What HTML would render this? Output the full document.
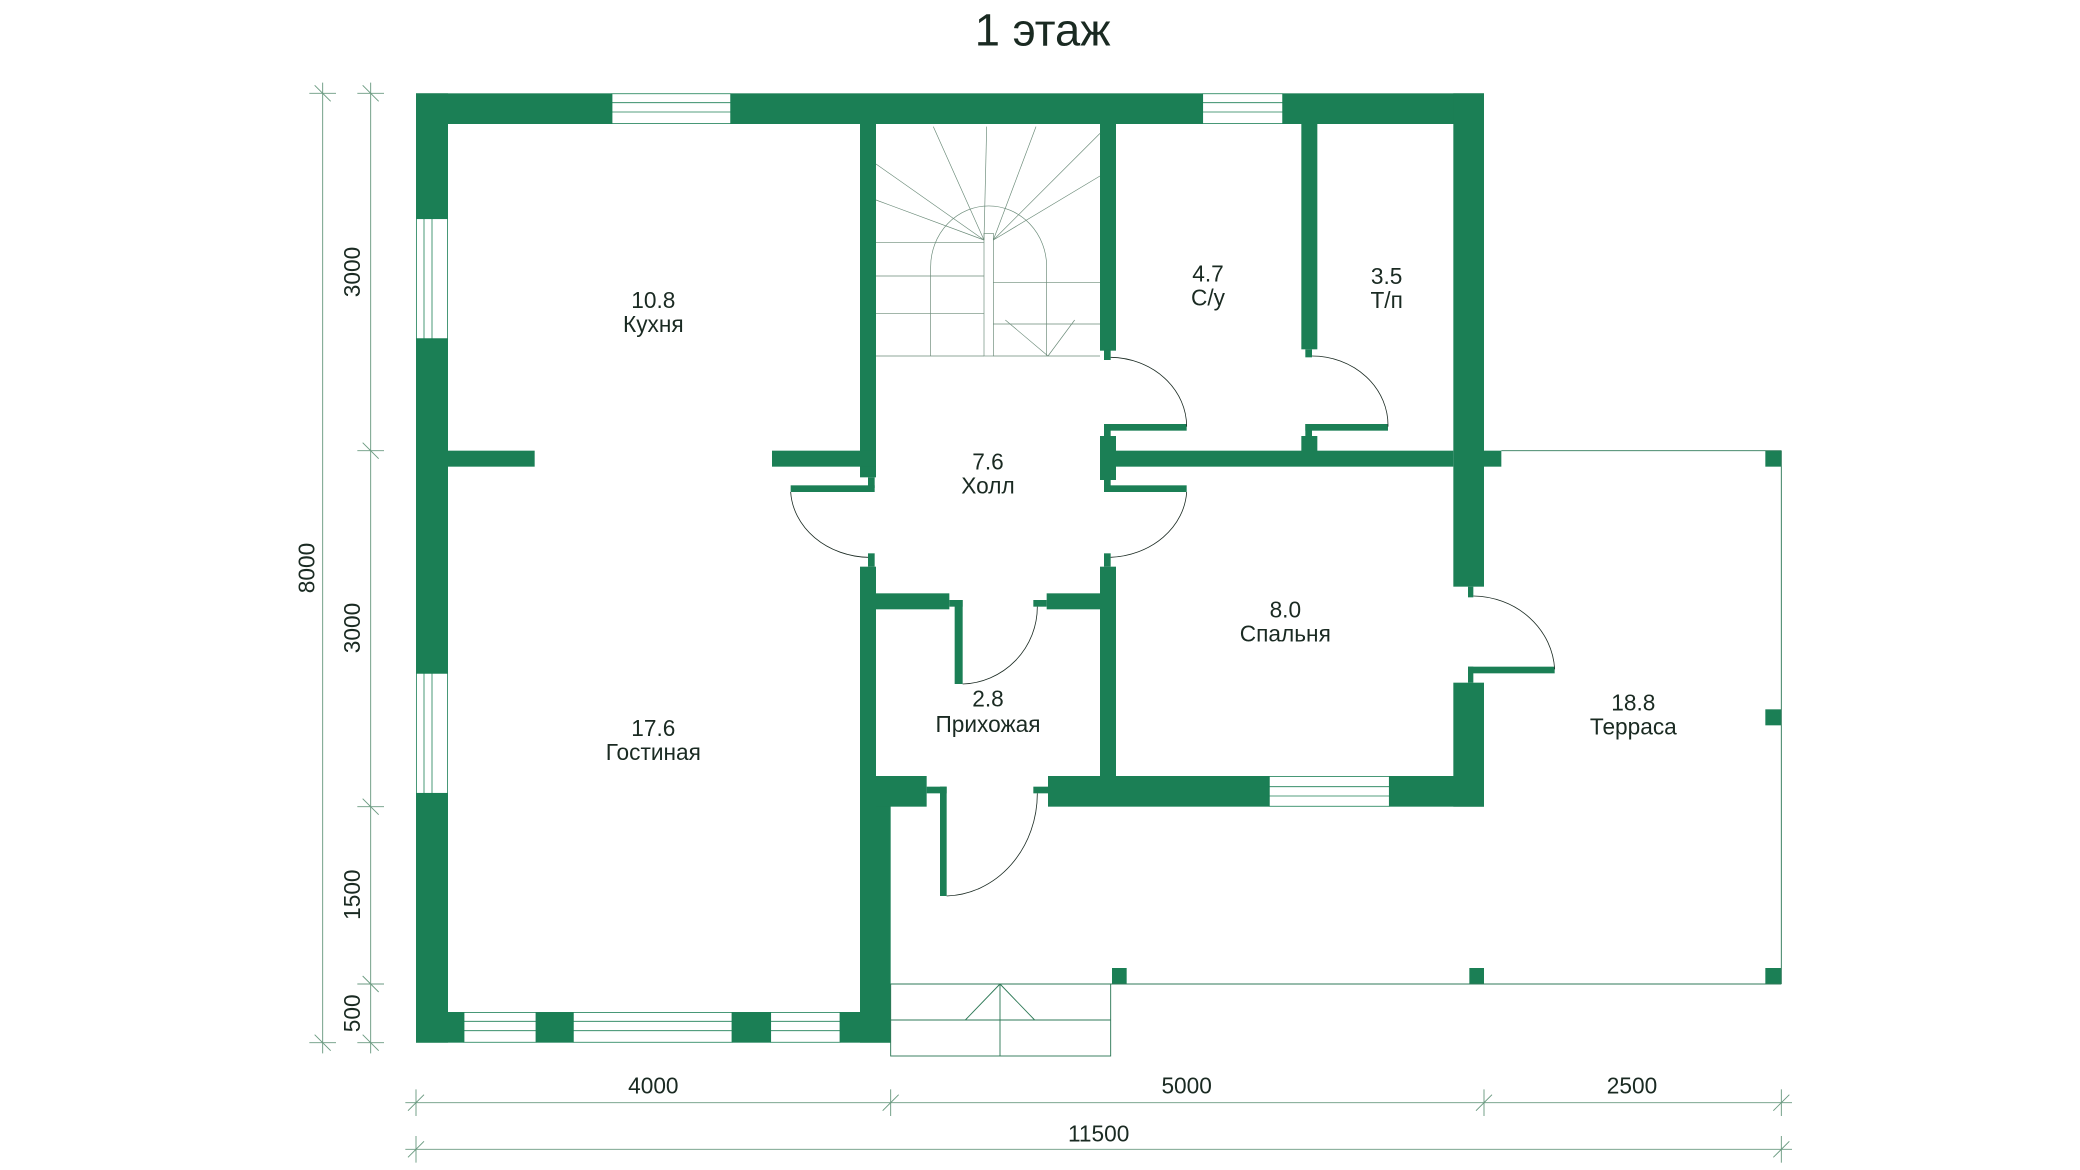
<!DOCTYPE html>
<html><head><meta charset="utf-8"><style>
html,body{margin:0;padding:0;background:#fff;}
svg{display:block;}
text{font-family:"Liberation Sans",sans-serif;fill:#1a2a22;}
</style></head><body>
<svg width="2080" height="1170" viewBox="0 0 1560 877.5" xmlns="http://www.w3.org/2000/svg">
<g fill="#1b7f55">
<rect x="312" y="70" width="147" height="23"/>
<rect x="548" y="70" width="354" height="23"/>
<rect x="962" y="70" width="151" height="23"/>
<rect x="312" y="70" width="24" height="94"/>
<rect x="312" y="254" width="24" height="251"/>
<rect x="312" y="595" width="24" height="187"/>
<rect x="312" y="759" width="36" height="23"/>
<rect x="402" y="759" width="28" height="23"/>
<rect x="549" y="759" width="29" height="23"/>
<rect x="630" y="759" width="38" height="23"/>
<rect x="1090" y="70" width="23" height="370"/>
<rect x="1090" y="512" width="23" height="93"/>
<rect x="1113" y="338" width="13" height="12"/>
<rect x="1101" y="440" width="4" height="8"/>
<rect x="1101" y="500" width="4" height="12"/>
<rect x="1101" y="500" width="65" height="5"/>
<rect x="786" y="582" width="166" height="23"/>
<rect x="1042" y="582" width="71" height="23"/>
<rect x="645" y="93" width="12" height="265"/>
<rect x="651" y="358" width="5" height="8"/>
<rect x="593" y="364" width="63" height="5"/>
<rect x="651" y="415" width="5" height="10"/>
<rect x="645" y="425" width="12" height="160"/>
<rect x="645" y="582" width="23" height="200"/>
<rect x="336" y="338" width="65" height="12"/>
<rect x="579" y="338" width="78" height="12"/>
<rect x="825" y="93" width="12" height="170"/>
<rect x="828" y="262" width="5" height="8"/>
<rect x="828" y="318" width="62" height="5"/>
<rect x="828" y="318" width="5" height="12"/>
<rect x="825" y="327" width="12" height="33"/>
<rect x="837" y="338" width="253" height="12"/>
<rect x="828" y="360" width="5" height="8"/>
<rect x="828" y="364" width="62" height="5"/>
<rect x="828" y="415" width="5" height="10"/>
<rect x="825" y="425" width="12" height="160"/>
<rect x="976" y="93" width="12" height="169"/>
<rect x="979" y="262" width="5" height="6"/>
<rect x="979" y="318" width="62" height="5"/>
<rect x="979" y="318" width="5" height="10"/>
<rect x="976" y="327" width="12" height="12"/>
<rect x="657" y="445" width="55" height="12"/>
<rect x="712" y="450" width="10" height="5"/>
<rect x="716" y="450" width="6" height="63"/>
<rect x="785" y="445" width="40" height="12"/>
<rect x="775" y="450" width="10" height="5"/>
<rect x="657" y="582" width="38" height="23"/>
<rect x="695" y="590" width="15" height="5"/>
<rect x="705" y="590" width="5" height="82"/>
<rect x="775" y="590" width="11" height="5"/>
<rect x="1324" y="338" width="12" height="12"/>
<rect x="1324" y="532" width="12" height="12"/>
<rect x="1324" y="726" width="12" height="12"/>
<rect x="1102" y="726" width="11" height="12"/>
<rect x="834" y="726" width="11" height="12"/>
</g>
<g fill="none" stroke="#1b7f55" stroke-width="0.6">
<rect x="459" y="70.3" width="89" height="22.4"/>
<line x1="459" y1="77" x2="548" y2="77"/><line x1="459" y1="84" x2="548" y2="84"/>
<rect x="902" y="70.3" width="60" height="22.4"/>
<line x1="902" y1="77" x2="962" y2="77"/><line x1="902" y1="84" x2="962" y2="84"/>
<rect x="312.3" y="164" width="23.4" height="90"/>
<line x1="318" y1="164" x2="318" y2="254"/><line x1="324" y1="164" x2="324" y2="254"/>
<rect x="312.3" y="505" width="23.4" height="90"/>
<line x1="318" y1="505" x2="318" y2="595"/><line x1="324" y1="505" x2="324" y2="595"/>
<rect x="348" y="759.3" width="54" height="22.4"/>
<line x1="348" y1="766" x2="402" y2="766"/><line x1="348" y1="773" x2="402" y2="773"/>
<rect x="430" y="759.3" width="119" height="22.4"/>
<line x1="430" y1="766" x2="549" y2="766"/><line x1="430" y1="773" x2="549" y2="773"/>
<rect x="578" y="759.3" width="52" height="22.4"/>
<line x1="578" y1="766" x2="630" y2="766"/><line x1="578" y1="773" x2="630" y2="773"/>
<rect x="952" y="582.3" width="90" height="22.4"/>
<line x1="952" y1="590" x2="1042" y2="590"/><line x1="952" y1="597" x2="1042" y2="597"/>
</g>
<g fill="none" stroke="#1a2a22" stroke-width="0.6">
<path d="M593 369 A60 52 0 0 0 651 418"/>
<path d="M890 369 A60 52 0 0 1 833 418"/>
<path d="M833 268 A58 52 0 0 1 890 320"/>
<path d="M984 267 A57 52 0 0 1 1041 320"/>
<path d="M1105 447 A62 58 0 0 1 1166 502"/>
<path d="M778 455 A58 58 0 0 1 722 513"/>
<path d="M778 595 A70 77 0 0 1 710 672"/>
</g>
<g fill="none" stroke="#6a8a78" stroke-width="0.5">
<line x1="657" y1="267" x2="738" y2="267"/>
<line x1="745" y1="267" x2="825" y2="267"/>
<line x1="657" y1="235" x2="738" y2="235"/>
<line x1="657" y1="207" x2="738" y2="207"/>
<line x1="657" y1="182" x2="738" y2="182"/>
<line x1="745" y1="212" x2="825" y2="212"/>
<line x1="745" y1="243" x2="825" y2="243"/>
<rect x="738" y="175" width="7" height="92"/>
<path d="M698 267 V200 A43 45 0 0 1 785 200 V267"/>
<line x1="738" y1="180" x2="657" y2="123"/>
<line x1="738" y1="180" x2="657" y2="150"/>
<line x1="738" y1="180" x2="700" y2="95"/>
<line x1="738" y1="180" x2="740" y2="95" />
<line x1="745" y1="180" x2="777" y2="95"/>
<line x1="745" y1="180" x2="825" y2="100"/>
<line x1="745" y1="180" x2="825" y2="132"/>
<line x1="754" y1="240" x2="786" y2="267"/>
<line x1="786" y1="267" x2="806" y2="240"/>
</g>
<g fill="none" stroke="#2f7a58" stroke-width="0.7">
<line x1="1126" y1="338" x2="1336" y2="338"/>
<line x1="1336" y1="338" x2="1336" y2="738"/>
<line x1="668" y1="738" x2="1336" y2="738"/>
<rect x="668" y="738" width="165" height="54"/>
<line x1="668" y1="765" x2="833" y2="765"/>
<line x1="750" y1="792" x2="750" y2="738"/>
<line x1="724" y1="765" x2="750" y2="738"/>
<line x1="776" y1="765" x2="750" y2="738"/>
</g>
<g stroke="#6a9a80" stroke-width="0.7" fill="none">
<line x1="242" y1="62" x2="242" y2="790"/>
<line x1="236" y1="64" x2="248" y2="76"/><line x1="236" y1="776" x2="248" y2="788"/>
<line x1="232" y1="70" x2="252" y2="70"/><line x1="232" y1="782" x2="252" y2="782"/>
<line x1="278" y1="62" x2="278" y2="790"/>
<line x1="268" y1="70" x2="288" y2="70"/><line x1="272" y1="64" x2="284" y2="76"/>
<line x1="268" y1="338" x2="288" y2="338"/><line x1="272" y1="332" x2="284" y2="344"/>
<line x1="268" y1="605" x2="288" y2="605"/><line x1="272" y1="599" x2="284" y2="611"/>
<line x1="268" y1="738" x2="288" y2="738"/><line x1="272" y1="732" x2="284" y2="744"/>
<line x1="268" y1="782" x2="288" y2="782"/><line x1="272" y1="776" x2="284" y2="788"/>
<line x1="304" y1="827" x2="1344" y2="827"/>
<line x1="312" y1="817" x2="312" y2="837"/><line x1="306" y1="833" x2="318" y2="821"/>
<line x1="668" y1="817" x2="668" y2="837"/><line x1="662" y1="833" x2="674" y2="821"/>
<line x1="1113" y1="817" x2="1113" y2="837"/><line x1="1107" y1="833" x2="1119" y2="821"/>
<line x1="1336" y1="817" x2="1336" y2="837"/><line x1="1330" y1="833" x2="1342" y2="821"/>
<line x1="304" y1="862" x2="1344" y2="862"/>
<line x1="312" y1="852" x2="312" y2="872"/><line x1="306" y1="868" x2="318" y2="856"/>
<line x1="1336" y1="852" x2="1336" y2="872"/><line x1="1330" y1="868" x2="1342" y2="856"/>
</g>
<g font-size="17" text-anchor="middle">
<text x="490" y="820">4000</text>
<text x="890" y="820">5000</text>
<text x="1224" y="820">2500</text>
<text x="824" y="856">11500</text>
<text transform="translate(270,204) rotate(-90)">3000</text>
<text transform="translate(270,471) rotate(-90)">3000</text>
<text transform="translate(270,671) rotate(-90)">1500</text>
<text transform="translate(270,760) rotate(-90)">500</text>
<text transform="translate(236,426) rotate(-90)">8000</text>
</g>
<g font-size="17" text-anchor="middle">
<text x="490" y="231">10.8</text><text x="490" y="249">Кухня</text>
<text x="741" y="352">7.6</text><text x="741" y="370">Холл</text>
<text x="906" y="211">4.7</text><text x="906" y="229">С/у</text>
<text x="1040" y="213">3.5</text><text x="1040" y="231">Т/п</text>
<text x="964" y="463">8.0</text><text x="964" y="481">Спальня</text>
<text x="741" y="530">2.8</text><text x="741" y="549">Прихожая</text>
<text x="490" y="552">17.6</text><text x="490" y="570">Гостиная</text>
<text x="1225" y="533">18.8</text><text x="1225" y="551">Терраса</text>
</g>
<text x="782" y="34" font-size="34" text-anchor="middle" fill="#1a3a2a">1 этаж</text>
</svg>
</body></html>
